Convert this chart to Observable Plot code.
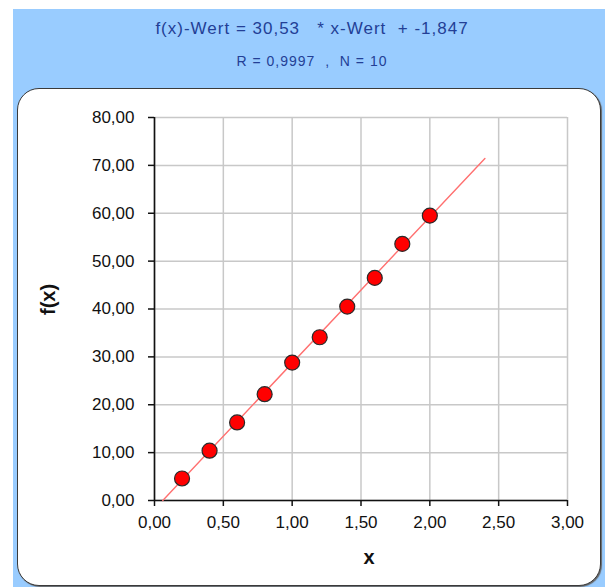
<!DOCTYPE html>
<html>
<head>
<meta charset="utf-8">
<script src="https://cdn.jsdelivr.net/npm/d3@7"></script>
<script src="https://cdn.jsdelivr.net/npm/@observablehq/plot@0.6"></script>
<style>
  html, body { margin: 0; padding: 0; background: #fff; width: 605px; height: 587px; overflow: hidden; }
  #bg { position: absolute; left: 13px; top: 9px; width: 592px; height: 578px; background: #99ccff; }
  .ttl { position: absolute; left: 13px; width: 598px; text-align: center; white-space: pre;
         font-family: "Liberation Sans", Arial, sans-serif; color: #233f96; }
  #t1 { top: 19px; font-size: 17px; letter-spacing: 1px; }
  #t2 { top: 53px; font-size: 14px; letter-spacing: 1px; }
  #box { position: absolute; left: 17px; top: 88px; width: 584px; height: 498px; box-sizing: border-box;
         background: #fff; border: 1.5px solid #3a3a3a; border-radius: 22px; box-shadow: 1px 1px 1px #666; }
  #chart { position: absolute; left: 0; top: 0; }
</style>
</head>
<body>
<div id="bg"></div>
<div class="ttl" id="t1"></div>
<div class="ttl" id="t2"></div>
<div id="box"></div>
<div id="chart"></div>
<script>
// Data
const titleLine1 = "f(x)-Wert = 30,53   * x-Wert  + -1,847";
const titleLine2 = "R = 0,9997  ,  N = 10";
const xValues = [0.2, 0.4, 0.6, 0.8, 1.0, 1.2, 1.4, 1.6, 1.8, 2.0];
const fxValues = [4.6, 10.4, 16.3, 22.2, 28.8, 34.1, 40.5, 46.5, 53.6, 59.5];
const fitX = [0.06, 2.40];
const fitY = [0.0, 71.43];
const xTicks = [0, 0.5, 1, 1.5, 2, 2.5, 3];
const xTickLabels = ["0,00", "0,50", "1,00", "1,50", "2,00", "2,50", "3,00"];
const yTicks = [0, 10, 20, 30, 40, 50, 60, 70, 80];
const yTickLabels = ["0,00", "10,00", "20,00", "30,00", "40,00", "50,00", "60,00", "70,00", "80,00"];
const xLabel = "x";
const yLabel = "f(x)";

document.getElementById("t1").textContent = titleLine1;
document.getElementById("t2").textContent = titleLine2;

const points = xValues.map((x, i) => ({x, y: fxValues[i]}));
const fit = fitX.map((x, i) => ({x, y: fitY[i]}));
const font = "'Liberation Sans', Arial, sans-serif";

const chart = Plot.plot({
  width: 605,
  height: 587,
  marginLeft: 154,
  marginRight: 38,
  marginTop: 117,
  marginBottom: 87,
  style: {background: "transparent", fontFamily: font, overflow: "visible"},
  x: {domain: [0, 3]},
  y: {domain: [0, 80]},
  marks: [
    Plot.gridX(xTicks, {stroke: "#c8c8c8", strokeOpacity: 1, strokeWidth: 1.5}),
    Plot.gridY(yTicks, {stroke: "#c8c8c8", strokeOpacity: 1, strokeWidth: 1.5}),
    Plot.axisX({ticks: xTicks, tickFormat: d => xTickLabels[xTicks.indexOf(d)], tickSize: 6, tickPadding: 9,
                fontSize: 17, fill: "#111", stroke: "#111", strokeWidth: 1.5, label: null}),
    Plot.axisY({ticks: yTicks, tickFormat: d => yTickLabels[yTicks.indexOf(d)], tickSize: 6, tickPadding: 14,
                fontSize: 17, fill: "#111", stroke: "#111", strokeWidth: 1.5, label: null}),
    Plot.ruleX([0], {stroke: "#111", strokeWidth: 1.6}),
    Plot.ruleY([0], {stroke: "#111", strokeWidth: 1.6}),
    Plot.line(fit, {x: "x", y: "y", stroke: "#ff7070", strokeWidth: 1.4}),
    Plot.dot(points, {x: "x", y: "y", r: 7.5, fill: "#ff0000", stroke: "#2a2a2a", strokeWidth: 1.2}),
    Plot.text([xLabel], {text: d => d, frameAnchor: "bottom", dx: 8, dy: 57, lineAnchor: "middle",
                         fontSize: 20, fontWeight: "bold", fill: "#111"}),
    Plot.text([yLabel], {text: d => d, frameAnchor: "left", dx: -106, dy: 6, rotate: -90, lineAnchor: "middle",
                         fontSize: 20, fontWeight: "bold", fill: "#111"})
  ]
});
document.getElementById("chart").appendChild(chart);
</script>
</body>
</html>
